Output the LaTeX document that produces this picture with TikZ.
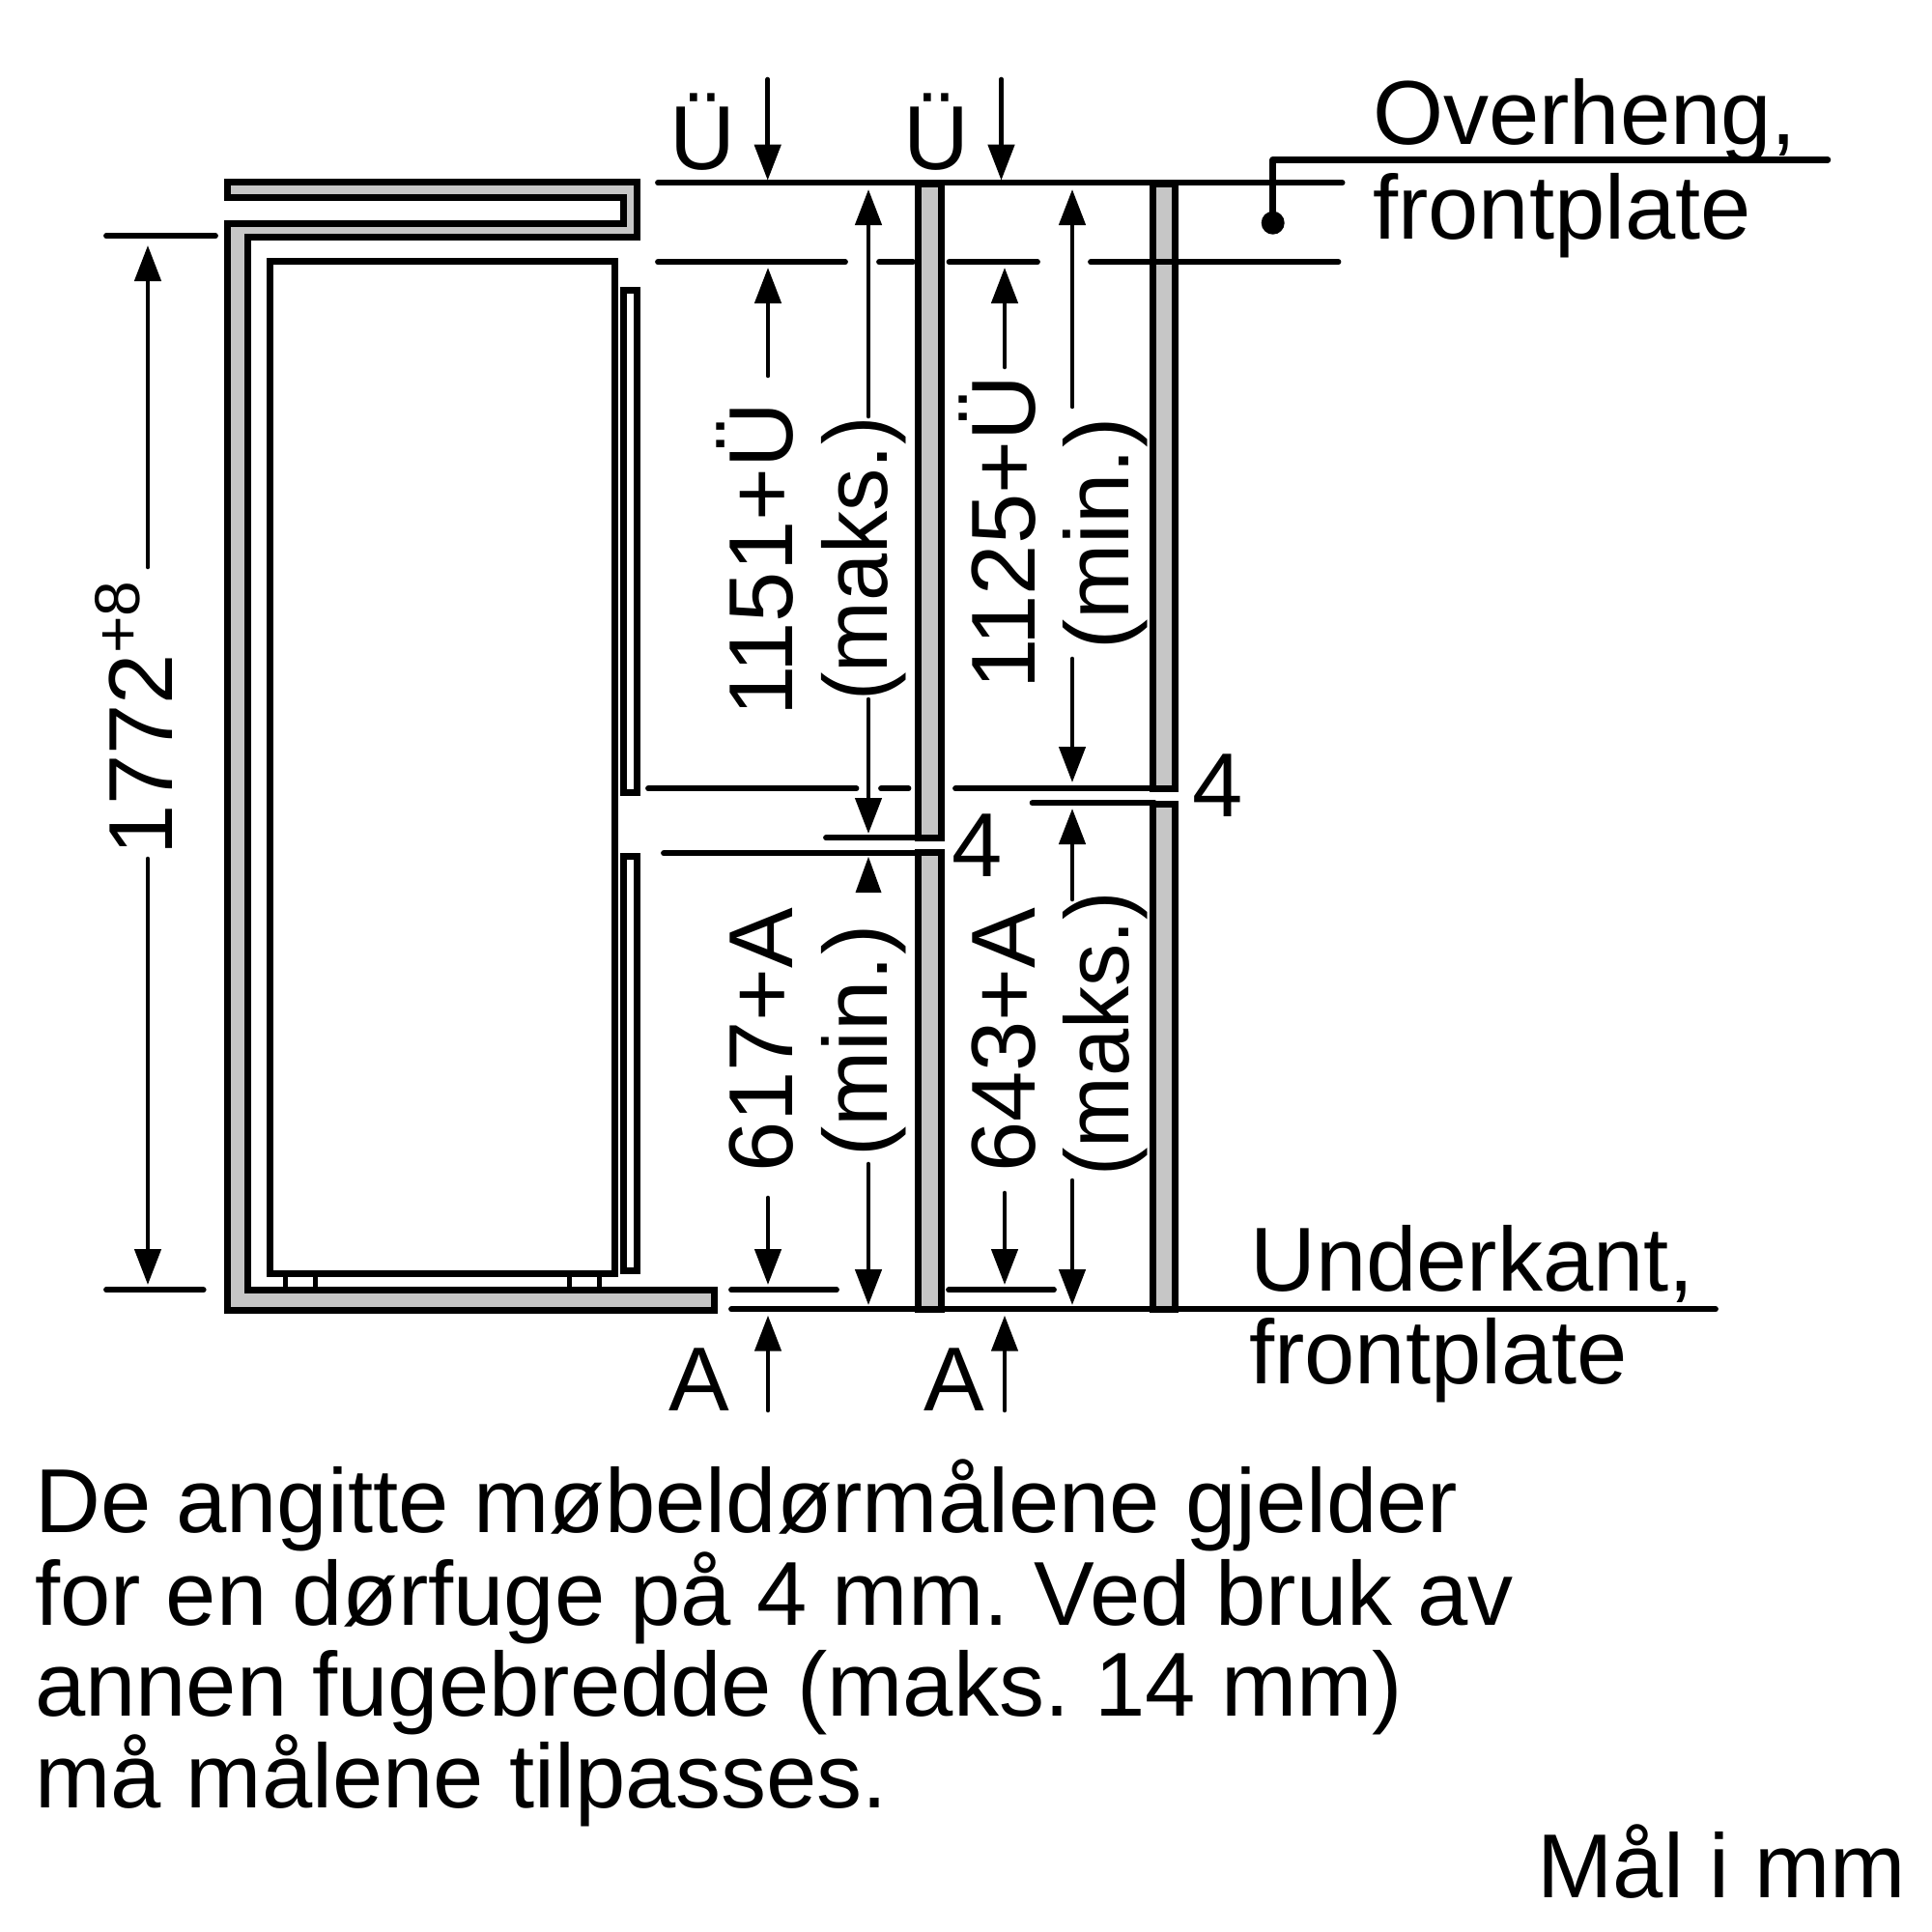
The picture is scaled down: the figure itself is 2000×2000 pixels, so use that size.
\documentclass[tikz,border=0pt]{standalone}
\usepackage{fontspec}
\setmainfont{Liberation Sans}
\usetikzlibrary{arrows.meta}
\definecolor{panelgray}{HTML}{C6C6C6}
\tikzset{
  outline/.style={draw=black,line width=7pt,miter limit=10},
  panel/.style={outline,fill=panelgray},
  foot/.style={draw=black,line width=5pt},
  ruleline/.style={draw=black,line width=5.8pt,line cap=round},
  leader/.style={draw=black,line width=6.5pt,line cap=round,line join=round},
  dimarrow/.style={draw=black,line width=4.6pt,line cap=round,-{Triangle[length=37pt,width=27pt]}},
  txt/.style={font=\fontsize{94}{94}\selectfont,inner sep=0pt,anchor=base west,text=black},
  rtxt/.style={txt,rotate=90},
  ctxt/.style={font=\fontsize{94}{94}\selectfont,inner sep=0pt,anchor=base,text=black}
}
\begin{document}
\frenchspacing
\begin{tikzpicture}[x=1pt,y=-1pt]
\useasboundingbox (0,0) rectangle (2000,2000);
% cabinet
\draw[panel] (235.5,188.5) -- (659.4,188.5) -- (659.4,245.3) -- (256.5,245.3) -- (256.5,1335.3) -- (739.5,1335.3) -- (739.5,1356) -- (235.5,1356) -- (235.5,231.7) -- (645.7,231.7) -- (645.7,204.3) -- (235.5,204.3) -- cycle;
% appliance
\draw[foot] (295.7,1318) rectangle (326.7,1335);
\draw[foot] (589.6,1318) rectangle (620,1335);
\draw[outline] (279.3,270.7) rectangle (636.7,1318);
\draw[outline] (645.3,300) rectangle (659.3,820);
\draw[outline] (645.3,886) rectangle (659.3,1315.5);
% horizontal reference lines
\draw[ruleline] (681,189.3) coordinate (topL) -- (1389.6,189.3) coordinate (topR);
\draw[ruleline] (681,271.3) -- (875,271.3);
\draw[ruleline] (910,271.3) -- (945,271.3);
\draw[ruleline] (982.5,271.3) -- (1074,271.3);
\draw[ruleline] (1129,271.3) -- (1385.5,271.3);
\draw[ruleline] (671,816.3) -- (886.5,816.3);
\draw[ruleline] (912,816.3) -- (940.5,816.3);
\draw[ruleline] (989,816.3) -- (1195,816.3);
\draw[ruleline] (1068.6,831.3) -- (1195,831.3);
\draw[ruleline] (855,867.3) -- (950,867.3);
\draw[ruleline] (687,883.3) -- (950,883.3);
\draw[ruleline] (110,244.3) -- (223,244.3);
\draw[ruleline] (110,1335.3) -- (210.7,1335.3);
\draw[ruleline] (757,1335.3) -- (866,1335.3);
\draw[ruleline] (982,1335.3) -- (1091,1335.3);
\draw[ruleline] (757,1355.3) -- (1776,1355.3);
% front panels
\draw[panel] (950,190) rectangle (974,867.5);
\draw[panel] (950,882.5) rectangle (974,1355.5);
\draw[panel] (1193.5,190) rectangle (1216.5,816);
\draw[panel] (1193.5,832) rectangle (1216.5,1355.5);
\draw[ruleline,line cap=butt] (1190,271.3) -- (1220,271.3);
% leader
\draw[leader] (1317.7,225) coordinate (dotTop) -- (1317.7,165.3) -- (1892,165.3) coordinate (leadEnd);
\fill[black] (1317.7,230.7) circle[radius=12pt];
% dimension arrows
\draw[dimarrow] (153,587) -- (153,254);
\draw[dimarrow] (153,889) -- (153,1330);
\draw[dimarrow] (794.7,82) -- (794.7,186.7);
\draw[dimarrow] (1036.5,82) -- (1036.5,186.7);
\draw[dimarrow] (795,389) -- (795,277);
\draw[dimarrow] (899,431) -- (899,196);
\draw[dimarrow] (899,724) -- (899,863);
\fill[black] (899,887) -- (912.5,924) -- (885.5,924) -- cycle;
\draw[dimarrow] (899,1205) -- (899,1351);
\draw[dimarrow] (795,1240) -- (795,1330);
\draw[dimarrow] (795,1460) -- (795,1361.7);
\draw[dimarrow] (1040,380) -- (1040,277);
\draw[dimarrow] (1110,421) -- (1110,196);
\draw[dimarrow] (1110,682) -- (1110,810);
\draw[dimarrow] (1110,931) -- (1110,837);
\draw[dimarrow] (1110,1222) -- (1110,1351);
\draw[dimarrow] (1040,1235) -- (1040,1330);
\draw[dimarrow] (1040,1460) -- (1040,1361.7);
% labels
\node[rtxt] (t1772) at (178,886) {1772\raisebox{34pt}{\fontsize{66}{66}\selectfont +8}};
\node[rtxt] (t1151) at (820,742) {1151+Ü};
\node[rtxt] (tmaks1) at (918,726) {\scalebox{0.94}[1]{(maks.)}};
\node[rtxt] (t1125) at (1071,714) {1125+Ü};
\node[rtxt] (tmin1) at (1168,673) {(min.)};
\node[rtxt] (t617) at (820,1214) {617+A};
\node[rtxt] (tmin2) at (918,1198) {(min.)};
\node[rtxt] (t643) at (1071,1214) {643+A};
\node[rtxt] (tmaks2) at (1168,1218) {\scalebox{0.94}[1]{(maks.)}};
\node[ctxt] (tU1) at (727,175) {Ü};
\node[ctxt] (tU2) at (969,175) {Ü};
\node[ctxt] (tA1) at (724,1460) {A};
\node[ctxt] (tA2) at (988,1460) {A};
\node[txt] (tfour1) at (985,907.7) {4};
\node[txt] (tfour2) at (1234,845.6) {4};
\node[txt] (tover) at (1421,149) {Overheng,};
\node[txt] (tfront1) at (1421,247) {frontplate};
\node[txt] (tunder) at (1294,1336) {Underkant,};
\node[txt] (tfront2) at (1293,1432) {frontplate};
\node[txt] (p1) at (36,1586) {De angitte møbeldørmålene gjelder};
\node[txt] (p2) at (36,1682) {for en dørfuge på 4 mm. Ved bruk av};
\node[txt] (p3) at (36,1776) {annen fugebredde (maks. 14 mm)};
\node[txt] (p4) at (36,1871) {må målene tilpasses.};
\node[txt,anchor=base east] (tmm) at (1973,1964) {Mål i mm};
\end{tikzpicture}
\end{document}
